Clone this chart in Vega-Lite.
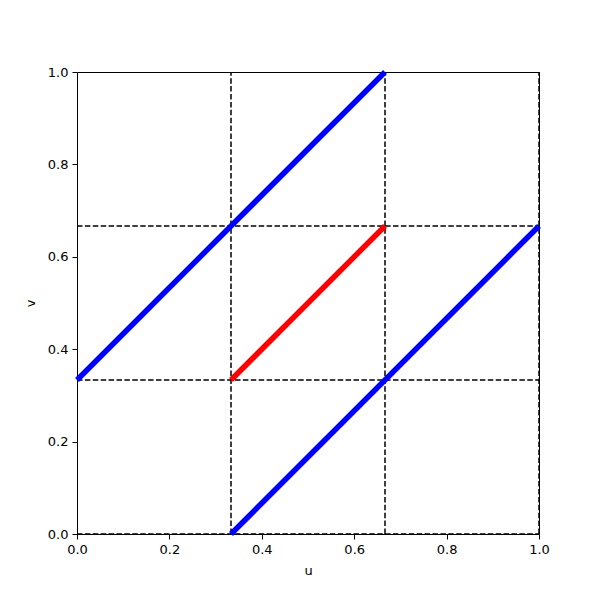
{
  "$schema": "https://vega.github.io/schema/vega-lite/v6.json",
  "width": 462,
  "height": 462,
  "autosize": {"type": "none"},
  "padding": {"left": 77, "top": 72, "right": 61, "bottom": 66},
  "config": {
    "view": {"stroke": "black", "strokeWidth": 1},
    "font": "DejaVu Sans",
    "axis": {
      "grid": false,
      "domain": false,
      "tickColor": "black",
      "tickSize": 5,
      "tickWidth": 1,
      "labelFont": "DejaVu Sans",
      "labelFontSize": 13,
      "labelColor": "black",
      "labelFlush": false,
      "titleFont": "DejaVu Sans",
      "titleFontSize": 13,
      "titleFontWeight": "normal",
      "titleColor": "black",
      "labelPadding": 4
    }
  },
  "layer": [
    {
      "data": {"values": [
        {"u": 0, "v": 0, "u2": 1, "v2": 0},
        {"u": 0, "v": 0.3333333, "u2": 1, "v2": 0.3333333},
        {"u": 0, "v": 0.6666667, "u2": 1, "v2": 0.6666667},
        {"u": 0.3333333, "v": 0, "u2": 0.3333333, "v2": 1},
        {"u": 0.6666667, "v": 0, "u2": 0.6666667, "v2": 1},
        {"u": 1, "v": 0, "u2": 1, "v2": 1}
      ]},
      "mark": {"type": "rule", "color": "black", "strokeWidth": 1.5, "strokeDash": [5.5, 2.4]},
      "encoding": {
        "x": {"field": "u", "type": "quantitative", "scale": {"domain": [0, 1], "nice": false}, "axis": {"title": "u", "values": [0, 0.2, 0.4, 0.6, 0.8, 1], "format": ".1f", "titlePadding": 8}},
        "y": {"field": "v", "type": "quantitative", "scale": {"domain": [0, 1], "nice": false}, "axis": {"title": "v", "values": [0, 0.2, 0.4, 0.6, 0.8, 1], "format": ".1f", "titlePadding": 10}},
        "x2": {"field": "u2"},
        "y2": {"field": "v2"}
      }
    },
    {
      "data": {"values": [
        {"seg": "a", "c": "blue", "u": 0, "v": 0.3333333},
        {"seg": "a", "c": "blue", "u": 0.6666667, "v": 1},
        {"seg": "b", "c": "blue", "u": 0.3333333, "v": 0},
        {"seg": "b", "c": "blue", "u": 1, "v": 0.6666667},
        {"seg": "c", "c": "red", "u": 0.3333333, "v": 0.3333333},
        {"seg": "c", "c": "red", "u": 0.6666667, "v": 0.6666667}
      ]},
      "mark": {"type": "line", "strokeWidth": 5.5, "strokeCap": "butt"},
      "encoding": {
        "x": {"field": "u", "type": "quantitative"},
        "y": {"field": "v", "type": "quantitative"},
        "detail": {"field": "seg"},
        "color": {"field": "c", "type": "nominal", "scale": {"domain": ["blue", "red"], "range": ["#0000ff", "#ff0000"]}, "legend": null}
      }
    }
  ]
}
